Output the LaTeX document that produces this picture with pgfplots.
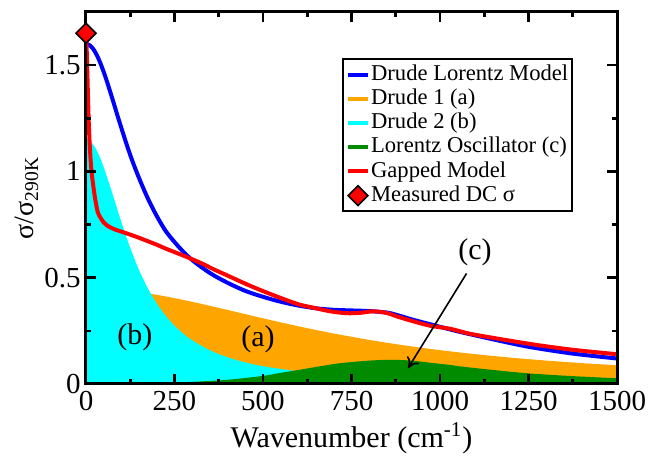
\documentclass[border=0pt]{standalone}
\usepackage{pgfplots}
\pgfplotsset{compat=1.18}
\usepackage{fontspec}
\setmainfont{Liberation Serif}
\usetikzlibrary{arrows.meta}

\definecolor{dlblue}{RGB}{0,0,255}
\definecolor{dorange}{RGB}{255,165,0}
\definecolor{dcyan}{RGB}{0,255,255}
\definecolor{lgreen}{RGB}{0,139,0}
\definecolor{gred}{RGB}{255,0,0}

\begin{document}
\begin{tikzpicture}
\begin{axis}[
  scale only axis,
  width=265.5pt, height=186pt,
  xmin=0, xmax=1500, ymin=0, ymax=1.75,
  xtick={0,250,...,1500},
  ytick={0,0.5,1,1.5},
  minor x tick num=1, minor y tick num=1,
  tick align=inside,
  major tick length=5pt, minor tick length=2.5pt,
  every tick/.style={black, line width=1.3pt},
  axis line style={line width=1.5pt},
  scaled ticks=false,
  /pgf/number format/assume math mode=true,
  /pgf/number format/set thousands separator={},
  tick label style={font=\fontsize{14.5}{15}\selectfont},
  xticklabel style={inner sep=3.5pt},
  yticklabel style={inner sep=2.5pt},
  xlabel={Wavenumber (cm\textsuperscript{-1})},
  ylabel={σ/σ\textsubscript{290K}},
  xlabel style={font=\fontsize{15}{16}\selectfont, yshift=1pt},
  ylabel style={font=\fontsize{14}{15}\selectfont, yshift=-3pt},
  axis on top,
  clip=false,
  legend cell align=left,
  legend image code/.code={%
    \draw[mark repeat=2,mark phase=2,#1] plot coordinates {(0pt,0pt) (5pt,0pt) (10pt,0pt)};},
  legend style={at={(0.482,0.875)}, anchor=north west, draw=black, line width=1pt,
    font=\fontsize{11.3}{12}\selectfont, inner sep=1.5pt, row sep=0pt,
    nodes={inner sep=0.6pt, text height=8.3pt, text depth=2.6pt},
    /tikz/every even column/.append style={column sep=4pt}},
]

% Drude 1 (a)
\addplot[fill=dorange, draw=none, smooth, forget plot] coordinates {
 (0,0.45) (100,0.442) (200,0.4194) (300,0.3865) (400,0.3482) (500,0.309)
 (600,0.2715) (700,0.2375) (800,0.2075) (900,0.1815) (1000,0.1592)
 (1100,0.1402) (1200,0.124) (1300,0.1101) (1400,0.0983) (1500,0.0881)
} \closedcycle;

% Drude 2 (b)
\addplot[fill=dcyan, draw=none, smooth, forget plot] coordinates {
 (0,1.15) (10,1.144) (20,1.127) (30,1.0995) (40,1.063) (50,1.02) (60,0.9715)
 (70,0.92) (80,0.867) (90,0.8137) (100,0.7615) (115,0.6867) (130,0.6176)
 (150,0.5354) (175,0.4488) (200,0.3782) (225,0.321) (250,0.2745) (275,0.2367)
 (300,0.2057) (350,0.1586) (400,0.1255) (450,0.1015) (500,0.0836) (600,0.0594)
 (700,0.0442) (800,0.0342) (900,0.0272) (1000,0.0221) (1200,0.0154) (1500,0.0099)
} \closedcycle;

% Lorentz oscillator (c)
\addplot[fill=lgreen, draw=none, smooth, forget plot] coordinates {
 (0,0) (100,0.001) (200,0.004) (300,0.01) (400,0.02) (500,0.038) (548,0.052)
 (600,0.066) (642,0.078) (700,0.094) (736,0.101) (800,0.11) (860,0.114)
 (920,0.11) (972,0.1) (1028,0.09) (1056,0.083) (1150,0.066) (1250,0.05)
 (1375,0.037) (1500,0.027)
} \closedcycle;

% Drude Lorentz model
\addplot[dlblue, line width=2pt, smooth, forget plot] coordinates {
 (0,1.6) (10,1.594) (20,1.577) (30,1.549) (40,1.512) (50,1.468) (60,1.419)
 (70,1.366) (80,1.312) (90,1.257) (100,1.204) (115,1.126) (130,1.054)
 (150,0.968) (175,0.872) (200,0.79) (225,0.72) (250,0.668) (275,0.622)
 (300,0.583) (330,0.545) (360,0.512) (400,0.476) (450,0.438) (500,0.41)
 (550,0.387) (600,0.369) (650,0.356) (700,0.349) (750,0.346) (800,0.343)
 (850,0.336) (880,0.324) (920,0.304) (970,0.282) (1030,0.256) (1080,0.236)
 (1150,0.21) (1250,0.175) (1375,0.143) (1500,0.12)
};

% Gapped model
\addplot[gred, line width=2pt, smooth, forget plot] coordinates {
 (0,1.65) (2,1.57) (4,1.45) (6,1.33) (8,1.22) (11,1.11) (15,1.01) (20,0.94)
 (26,0.87) (33,0.81) (40,0.785) (50,0.76) (60,0.745) (80,0.728) (105,0.714)
 (140,0.694) (171,0.674) (200,0.655) (228,0.635) (260,0.614) (294,0.591)
 (330,0.565) (360,0.54) (400,0.51) (454,0.469) (500,0.437) (548,0.406)
 (600,0.375) (642,0.359) (690,0.342) (736,0.333) (775,0.335) (812,0.342)
 (850,0.334) (878,0.318) (920,0.297) (972,0.274) (1028,0.26) (1080,0.238)
 (1150,0.217) (1264,0.186) (1375,0.161) (1500,0.14)
};

% Measured DC conductivity
\addplot[only marks, mark=square*, mark size=3.5pt,
  mark options={rotate=45, fill=gred, draw=black, line width=0.8pt}, forget plot]
  coordinates {(0,1.65)};

\addlegendimage{dlblue, line width=2pt}
\addlegendentry{Drude Lorentz Model}
\addlegendimage{dorange, line width=2pt}
\addlegendentry{Drude 1 (a)}
\addlegendimage{dcyan, line width=2pt}
\addlegendentry{Drude 2 (b)}
\addlegendimage{lgreen, line width=2pt}
\addlegendentry{Lorentz Oscillator (c)}
\addlegendimage{gred, line width=2pt}
\addlegendentry{Gapped Model}
\addlegendimage{only marks, mark=square*, mark size=3.5pt,
  mark options={rotate=45, fill=gred, draw=black, line width=0.8pt}}
\addlegendentry{Measured DC σ}

\node[font=\fontsize{15}{16}\selectfont] at (axis cs:138,0.218) {(b)};
\node[font=\fontsize{15}{16}\selectfont] at (axis cs:486,0.208) {(a)};
\node[font=\fontsize{15}{16}\selectfont] at (axis cs:1099,0.62) {(c)};
\draw[-{To[length=5pt,width=7pt]}, line width=0.8pt] (axis cs:1075,0.52) -- (axis cs:910,0.075);
\end{axis}
\pgfresetboundingbox
\path ([shift={(-43pt,-38pt)}]current axis.south west) rectangle ([shift={(18pt,6pt)}]current axis.north east);
\end{tikzpicture}
\end{document}
